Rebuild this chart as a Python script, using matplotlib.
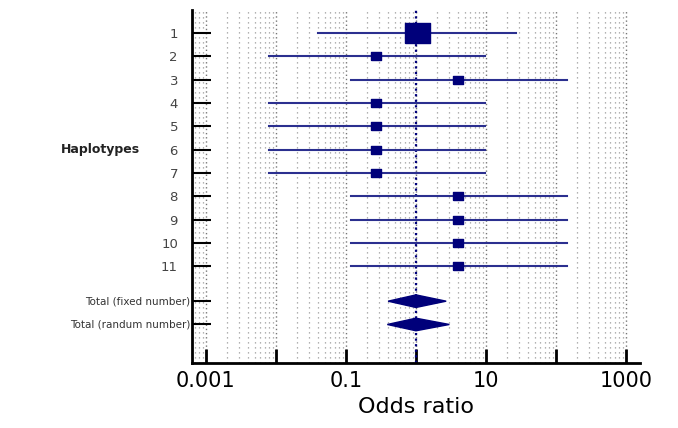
import matplotlib
matplotlib.use('Agg')
from matplotlib import pyplot as plt
from matplotlib.ticker import FixedLocator, LogLocator, NullFormatter

# Dane wykresu.
haplotypes = ['1', '2', '3', '4', '5', '6', '7', '8', '9', '10', '11']
odds = [1.05, 0.27, 4.0, 0.27, 0.27, 0.27, 0.27, 4.0, 4.0, 4.0, 4.0]
ci_low = [0.04, 0.008, 0.12, 0.008, 0.008, 0.008, 0.008, 0.12, 0.12, 0.12, 0.12]
ci_high = [27, 9.7, 144, 9.7, 9.7, 9.7, 9.7, 144, 144, 144, 144]
weights = [18, 7.5, 7.5, 7.5, 7.5, 7.5, 7.5, 7.5, 7.5, 7.5, 7.5]

totals = ['Total (fixed number)', 'Total (randum number)']
total_odds = [1.0, 1.0]
total_low = [0.40, 0.39]
total_high = [2.7, 3.0]

xtick_values = [0.001, 0.01, 0.1, 1, 10, 100, 1000]
xtick_labels = ['0.001', '', '0.1', '', '10', '', '1000']

navy = '#00007a'
line_col = '#2b2f8f'
# prostokąt lekko szerszy niż wyższy
box = [(-1.3, -1), (1.3, -1), (1.3, 1), (-1.3, 1), (-1.3, -1)]

fig = plt.figure(figsize=(6.78, 4.28), dpi=100)
ax = fig.add_axes([0.283, 0.152, 0.661, 0.825])

rows = list(range(1, len(haplotypes) + 1))
total_rows = [len(haplotypes) + 1.5, len(haplotypes) + 2.5]

ax.set_xscale('log')
ax.set_xlim(10 ** -3.2, 10 ** 3.2)
ax.set_ylim(15.15, 0)

# Siatka
ax.xaxis.set_major_locator(FixedLocator(xtick_values))
ax.xaxis.set_minor_locator(LogLocator(base=10, subs=range(2, 10), numticks=20))
ax.xaxis.set_minor_formatter(NullFormatter())
ax.grid(True, which='minor', axis='x', linestyle=(0, (1, 3)), color='#999999', linewidth=0.9)
ax.grid(True, which='major', axis='x', linestyle=(0, (1, 2)), color='#777777', linewidth=1.0)
ax.set_axisbelow(True)

ax.axvline(1, color=navy, linestyle=(0, (1, 1.5)), linewidth=1.6, zorder=2)

for y, est, lo, hi, w in zip(rows, odds, ci_low, ci_high, weights):
    ax.plot([lo, hi], [y, y], color=line_col, linewidth=1.5, zorder=3)
    ax.plot(est, y, marker=box, markersize=w, color=navy, zorder=4)

for y, est, lo, hi in zip(total_rows, total_odds, total_low, total_high):
    ax.fill([lo, est, hi, est], [y, y - 0.27, y, y + 0.27], color=navy, zorder=4)

ax.set_xticklabels(xtick_labels, fontsize=15)
ax.set_yticks(rows + total_rows)
ax.set_yticklabels(haplotypes + ['', ''], fontsize=9.5, color='#444444')
for y, name in zip(total_rows, totals):
    ax.text(-0.004, y, name, transform=ax.get_yaxis_transform(), ha='right',
            va='center', fontsize=7.5, color='#333333')

ax.tick_params(axis='x', which='major', direction='in', length=10, width=2, pad=6)
ax.tick_params(axis='x', which='minor', length=0)
ax.tick_params(axis='y', direction='in', length=14, width=1.5, pad=10)

for side in ['top', 'right']:
    ax.spines[side].set_visible(False)
for side in ['left', 'bottom']:
    ax.spines[side].set_linewidth(2)

ax.set_xlabel('Odds ratio', fontsize=16, labelpad=4)
fig.text(0.148, 1 - 149 / 428, 'Haplotypes', fontsize=9, fontweight='bold',
         ha='center', va='center', color='#222222')

fig.savefig('out.png', dpi=100)
